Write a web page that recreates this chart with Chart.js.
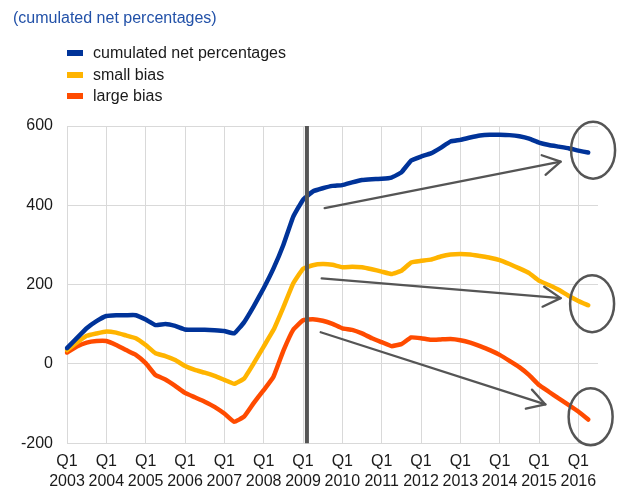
<!DOCTYPE html>
<html><head><meta charset="utf-8">
<script src="https://cdn.jsdelivr.net/npm/chart.js@4/dist/chart.umd.min.js"></script>
<style>
html,body{margin:0;padding:0;background:#fff;}
#wrap{position:relative;width:617px;height:488px;overflow:hidden;font-family:"Liberation Sans",Arial,sans-serif;}
#c{position:absolute;left:0;top:0;}
.title{position:absolute;left:13px;top:8px;font-size:16px;line-height:20px;color:#2251a8;white-space:nowrap;}
.leg{position:absolute;left:67px;height:20px;font-size:16px;line-height:20px;color:#1a1a1a;white-space:nowrap;}
.leg .sw{position:absolute;left:0;top:7px;width:16px;height:6px;}
.leg .tx{position:absolute;left:26px;top:0;}
</style></head>
<body><div id="wrap"><canvas id="c" width="617" height="488"></canvas>
<div class="title">(cumulated net percentages)</div>
<div id="legend"></div></div>
<script>
// ---- data ----
const years = [2003,2004,2005,2006,2007,2008,2009,2010,2011,2012,2013,2014,2015,2016];
const quarters = ["Q1","Q2","Q3","Q4"];
const seriesNames = ["cumulated net percentages","small bias","large bias"];
const seriesColors = ["#003399","#ffb400","#ff4b00"];
const cumulated = [40,65,90,108,121,123,123,123,112,98,101,96,87,86,86,85,83,77,105,146,191,241,300,371,414,435,443,449,451,458,464,466,467,470,483,513,523,531,545,561,565,571,576,578,578,577,574,568,558,552,548,544,538,533];
const smallBias = [35,54,71,77,82,79,72,65,48,27,20,10,-5,-15,-22,-30,-40,-50,-37,2,44,86,143,203,240,249,252,250,244,245,244,239,233,227,235,256,260,263,271,276,277,276,272,268,262,252,241,229,210,199,187,172,159,148];
const largeBias = [29,44,54,58,58,48,35,23,2,-28,-39,-55,-73,-84,-95,-108,-125,-146,-133,-98,-66,-32,33,86,110,113,109,101,90,86,77,65,55,45,50,67,65,61,62,63,60,54,45,35,23,8,-8,-28,-53,-70,-87,-103,-120,-140];
const yTicks = {min:-200, max:600, step:200};

// annotations, in data units (category index, value)
const dividerAt = 24.4;
const arrows = [
  {from:[26.2, 393], to:[50.2, 510]},
  {from:[25.9, 216], to:[50.2, 166]},
  {from:[25.8, 80],  to:[48.65, -102]}
];
const circles = [[53.5, 539],[53.4, 152],[53.25, -133]];

// ---- categories ----
const labels = [];
years.forEach(y => quarters.forEach(q => labels.push(q + " " + y)));
labels.length = 55;

// ---- legend (HTML) ----
const legendEl = document.getElementById('legend');
seriesNames.forEach((n,i)=>{
  const d = document.createElement('div');
  d.className='leg'; d.style.top = (43 + i*21.5) + 'px';
  d.innerHTML = '<span class="sw" style="background:'+seriesColors[i]+'"></span><span class="tx"></span>';
  d.querySelector('.tx').textContent = n;
  legendEl.appendChild(d);
});

const overlay = {
  id:'overlay',
  afterDatasetsDraw(chart){
    const {ctx, chartArea, scales:{x, y}} = chart;
    ctx.save();
    ctx.strokeStyle = '#555555';
    ctx.lineWidth = 4;
    const dx = x.getPixelForValue(dividerAt);
    ctx.beginPath(); ctx.moveTo(dx, chartArea.top); ctx.lineTo(dx, chartArea.bottom); ctx.stroke();
    ctx.lineWidth = 2.3; ctx.lineCap = 'round'; ctx.lineJoin='round';
    arrows.forEach(a=>{
      const x1 = x.getPixelForValue(a.from[0]), y1 = y.getPixelForValue(a.from[1]);
      const x2 = x.getPixelForValue(a.to[0]),   y2 = y.getPixelForValue(a.to[1]);
      const ang = Math.atan2(y2-y1, x2-x1), L = 20, h = Math.PI/6;
      ctx.beginPath(); ctx.moveTo(x1,y1); ctx.lineTo(x2,y2); ctx.stroke();
      ctx.beginPath();
      ctx.moveTo(x2 - L*Math.cos(ang-h), y2 - L*Math.sin(ang-h));
      ctx.lineTo(x2,y2);
      ctx.lineTo(x2 - L*Math.cos(ang+h), y2 - L*Math.sin(ang+h));
      ctx.stroke();
    });
    ctx.lineWidth = 2.5;
    circles.forEach(c=>{
      ctx.beginPath();
      ctx.ellipse(x.getPixelForValue(c[0]), y.getPixelForValue(c[1]), 22, 28.5, 0, 0, Math.PI*2);
      ctx.stroke();
    });
    ctx.restore();
  }
};

const series = [cumulated, smallBias, largeBias];
new Chart(document.getElementById('c'), {
  type:'line',
  data:{
    labels,
    datasets: series.map((d,i)=>({
      label: seriesNames[i], data: d,
      borderColor: seriesColors[i], backgroundColor: seriesColors[i],
      borderWidth: 4.5, pointRadius: 0, tension: 0.1,
      borderCapStyle:'round', borderJoinStyle:'round', fill:false
    }))
  },
  options:{
    responsive:false, animation:false, devicePixelRatio:1,
    layout:{padding:{left:0, right:19, top:126, bottom:0}},
    plugins:{legend:{display:false}, title:{display:false}, tooltip:{enabled:false}},
    scales:{
      x:{
        type:'category', offset:false,
        grid:{drawTicks:false, color:(c)=> (c.index % 4 === 0 ? '#d9d9d9' : 'rgba(0,0,0,0)'), lineWidth:1},
        border:{color:'#d9d9d9'},
        ticks:{
          autoSkip:false, maxRotation:0, minRotation:0, padding:9,
          color:'#1a1a1a', font:{family:'"Liberation Sans", Arial, sans-serif', size:16, lineHeight:1.2},
          callback:(v,i)=> (i % 4 === 0 ? labels[i].split(' ') : '')
        },
        afterFit:(s)=>{ s.height = 44.7; }
      },
      y:{
        min:yTicks.min, max:yTicks.max,
        grid:{drawTicks:false, color:'#d9d9d9', lineWidth:1},
        border:{color:'#d9d9d9'},
        ticks:{stepSize:yTicks.step, padding:14, color:'#1a1a1a',
          font:{family:'"Liberation Sans", Arial, sans-serif', size:16}},
        afterFit:(s)=>{ s.width = 67; }
      }
    }
  },
  plugins:[overlay]
});
</script>
</body></html>
